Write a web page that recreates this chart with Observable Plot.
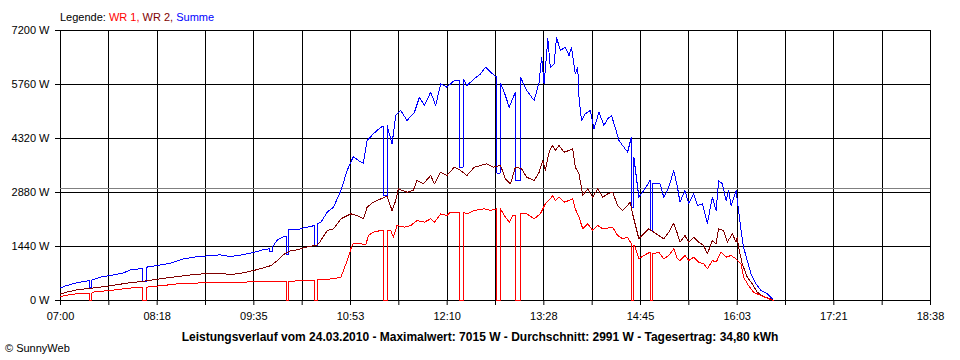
<!DOCTYPE html>
<html><head><meta charset="utf-8">
<script src="https://cdn.jsdelivr.net/npm/d3@7"></script>
<script src="https://cdn.jsdelivr.net/npm/@observablehq/plot@0.6"></script>
<style>
html,body{margin:0;padding:0;background:#fff;}
#chart{width:960px;height:360px;}
</style></head><body><div id="chart"></div>
<script>
// ---- data ----
const xTickLabels = ["07:00","08:18","09:35","10:53","12:10","13:28","14:45","16:03","17:21","18:38"];
const yTicks = [0, 1440, 2880, 4320, 5760, 7200];
const average = 2991;
const seriesNames = ["WR 1", "WR 2", "Summe"];
const seriesColors = ["#ff0000", "#800000", "#0000ff"];
const dateLabel = "24.03.2010";
const maxValue = 7015;
const dayYield = "34,80";
// readings: [minutes after 07:00, watts]
const wr1 = [[0,107],[5,142],[16,196],[23,196],[23,0],[25,0],[25,196],[27,231],[40,267],[53,320],[62,356],[66,356],[66,0],[69,0],[69,356],[80,391],[94,444],[107,462],[120,480],[134,489],[147,489],[160,507],[174,507],[181,507],[181,0],[183,0],[183,507],[193,533],[204,533],[204,0],[206,0],[206,551],[219,578],[225,622],[227,800],[230,1067],[233,1378],[235,1529],[241,1511],[245,1484],[247,1733],[251,1822],[257,1867],[259,1867],[259,0],[262,0],[262,1867],[265,1867],[267,1689],[270,2000],[276,1956],[281,2000],[286,2133],[292,2089],[297,2178],[300,2089],[305,2311],[310,2267],[313,2356],[320,2356],[320,0],[323,0],[323,2356],[326,2311],[332,2400],[340,2444],[345,2400],[350,2444],[350,0],[353,0],[353,2444],[356,2267],[360,2089],[363,2267],[365,2267],[365,0],[369,0],[369,2311],[374,2311],[380,2178],[385,2311],[389,2578],[393,2711],[395,2800],[397,2667],[400,2756],[404,2622],[408,2667],[411,2711],[413,2444],[416,2222],[419,1911],[423,2044],[427,1867],[431,2000],[435,1911],[443,1956],[447,1733],[451,1644],[455,1689],[458,1511],[458,0],[460,0],[460,1480],[461,1422],[464,1111],[468,1200],[473,1289],[473,0],[475,0],[475,1244],[480,1289],[484,1111],[488,1200],[492,1378],[495,1111],[497,1067],[501,1200],[504,1067],[508,1156],[512,1022],[516,978],[519,844],[523,1067],[526,1022],[530,1289],[534,1156],[538,1200],[542,1111],[546,978],[548,622],[552,400],[556,222],[562,133],[567,62],[572,0]];
const wr2 = [[0,178],[5,222],[13,284],[27,338],[40,391],[53,462],[67,516],[80,578],[94,640],[107,693],[118,720],[128,729],[136,693],[144,720],[155,800],[163,871],[169,933],[174,1067],[179,1227],[185,1333],[190,1351],[195,1404],[201,1450],[206,1480],[208,1556],[214,1867],[219,1911],[225,2178],[233,2311],[238,2267],[243,2178],[246,2489],[251,2622],[257,2711],[262,2782],[266,2400],[269,2667],[271,2978],[278,2889],[283,2933],[286,3200],[291,3111],[297,3333],[300,3111],[305,3422],[310,3333],[316,3556],[321,3467],[326,3333],[332,3556],[337,3600],[342,3644],[347,3556],[353,3600],[357,3244],[361,3111],[365,3556],[370,3511],[374,3289],[380,3200],[384,3422],[387,3733],[389,3467],[391,3822],[393,4044],[395,4133],[397,4000],[400,4133],[404,3956],[408,4000],[411,4044],[413,3556],[416,3378],[419,2800],[423,2978],[427,2756],[431,2978],[435,2756],[439,2844],[443,2889],[447,2533],[451,2400],[455,2533],[457,2622],[459,2311],[461,2044],[464,1644],[468,1778],[472,1911],[476,1822],[484,1644],[488,1822],[492,2062],[495,1778],[497,1556],[501,1733],[504,1556],[508,1689],[512,1556],[516,1467],[519,1244],[523,1600],[526,1511],[528,1911],[532,1867],[535,1556],[539,1778],[542,1556],[543,1689],[544,1422],[547,978],[551,622],[555,444],[559,222],[564,107],[570,44],[572,0]];
const summe = [[0,338],[5,400],[12,462],[23,533],[23,338],[25,338],[25,540],[32,622],[40,667],[50,728],[56,818],[66,853],[66,507],[69,507],[69,889],[78,933],[88,996],[99,1111],[107,1156],[118,1191],[128,1218],[136,1173],[144,1209],[155,1280],[163,1360],[168,1380],[168,1300],[170,1300],[170,1422],[174,1618],[179,1707],[181,1720],[181,1218],[183,1218],[183,1884],[190,1884],[195,1938],[198,1956],[204,2000],[204,1467],[206,1467],[206,2040],[209,2089],[214,2356],[219,2489],[225,2933],[230,3467],[235,3840],[239,3733],[243,3662],[246,4267],[251,4444],[257,4622],[259,4640],[259,2800],[262,2800],[262,4667],[266,4178],[269,4933],[273,5067],[278,4800],[284,5022],[288,5422],[292,5200],[297,5556],[301,5200],[305,5778],[310,5689],[316,5867],[320,5880],[320,3556],[323,3556],[323,5911],[326,5733],[332,5911],[337,6044],[341,6222],[345,6089],[350,5956],[350,3400],[353,3400],[353,5800],[356,5556],[360,5156],[365,5556],[365,3200],[369,3200],[369,5956],[374,5600],[380,5333],[384,5822],[386,6489],[388,5778],[391,6978],[393,6200],[396,6311],[398,7015],[401,6667],[405,6756],[408,6533],[410,6756],[413,6044],[415,6222],[416,5422],[418,4800],[421,4978],[425,5067],[428,4578],[432,5022],[436,4667],[439,4844],[442,4933],[445,4622],[448,4267],[452,4089],[455,3956],[458,4356],[458,2489],[460,2489],[460,3822],[464,2756],[468,2933],[473,3200],[473,1867],[475,1867],[475,3111],[481,3111],[484,2756],[488,3022],[492,3467],[495,3022],[497,2622],[501,2933],[504,2578],[508,2844],[511,2533],[515,2578],[519,2062],[523,2756],[526,2400],[528,3200],[531,3111],[534,2667],[536,2933],[538,2533],[542,2933],[543,2667],[544,2400],[546,1867],[548,1422],[551,1067],[554,711],[558,444],[562,267],[567,178],[571,44],[572,0]];

// ---- chart ----
const toMin = s => { const [h, m] = s.split(":").map(Number); return h * 60 + m; };
const xMax = toMin(xTickLabels[xTickLabels.length - 1]) - toMin(xTickLabels[0]);
const nGrid = 2 * (xTickLabels.length - 1);
const gridX = d3.range(nGrid + 1).map(i => i * xMax / nGrid);
const labelAt = new Map(gridX.map((v, i) => [v, i % 2 === 0 ? xTickLabels[i / 2] : ""]));
const rows = arr => arr.map(([m, w]) => ({m, w}));
const lineOpts = c => ({x: "m", y: "w", stroke: c, strokeWidth: 1, curve: "linear", shapeRendering: "crispEdges"});

const plot = Plot.plot({
  width: 960, height: 360,
  marginTop: 30, marginRight: 30, marginBottom: 60, marginLeft: 60,
  style: {fontFamily: "'Liberation Sans', Arial, sans-serif", fontSize: "11px", color: "#000", background: "#fff", overflow: "visible"},
  x: {domain: [0, xMax], label: null},
  y: {domain: [0, yTicks[yTicks.length - 1]], label: null},
  marks: [
    Plot.ruleX(gridX, {stroke: "#000", strokeWidth: 1, shapeRendering: "crispEdges"}),
    Plot.ruleY(yTicks, {stroke: "#000", strokeWidth: 1, shapeRendering: "crispEdges"}),
    Plot.ruleY([average], {stroke: "#808080", strokeWidth: 1, shapeRendering: "crispEdges"}),
    Plot.line(rows(summe), lineOpts(seriesColors[2])),
    Plot.line(rows(wr2), lineOpts(seriesColors[1])),
    Plot.line(rows(wr1), lineOpts(seriesColors[0])),
    Plot.axisY(yTicks, {tickSize: 5, tickPadding: 6, tickFormat: d => `${d} W`, fontSize: 11, label: null}),
    Plot.axisX(gridX, {tickSize: 5, tickPadding: 7, tickFormat: d => labelAt.get(d), fontSize: 11, label: null})
  ]
});

const svg = d3.select(plot);
const leg = svg.append("text").attr("x", 60).attr("y", 20.5).attr("font-size", 11).attr("text-anchor", "start");
leg.append("tspan").attr("fill", "#000").text("Legende: ");
seriesNames.forEach((n, i) => {
  leg.append("tspan").attr("fill", seriesColors[i]).text(n + (i < seriesNames.length - 1 ? ", " : ""));
});
svg.append("text").attr("x", 480).attr("y", 341).attr("text-anchor", "middle")
  .attr("font-weight", "bold").attr("font-size", 12).attr("fill", "#000")
  .text(`Leistungsverlauf vom ${dateLabel} - Maximalwert: ${maxValue} W - Durchschnitt: ${average} W - Tagesertrag: ${dayYield} kWh`);
svg.append("text").attr("x", 5).attr("y", 352).attr("font-size", 11).attr("text-anchor", "start").attr("fill", "#000").text("\u00A9 SunnyWeb");

document.getElementById("chart").appendChild(plot);
</script></body></html>
